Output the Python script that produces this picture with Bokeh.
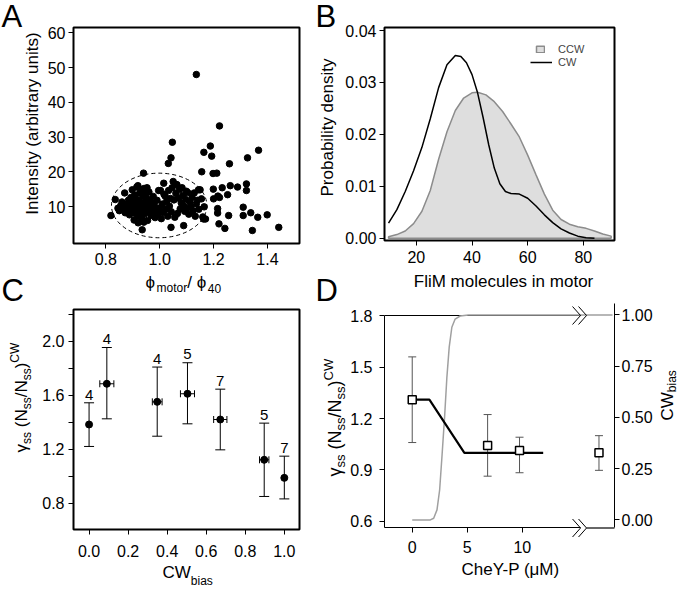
import math
from bokeh.plotting import figure
from bokeh.layouts import column, row
from bokeh.models import (Range1d, LinearAxis, FixedTicker, PrintfTickFormatter, Label, LabelSet,
                          ColumnDataSource, Whisker, TeeHead, Legend, LegendItem)
from bokeh.embed import file_html
from bokeh.resources import INLINE
from bokeh.core.properties import value

FONT = "Liberation Sans"

# ---------------- Panel A data ----------------
A_X = [1.136, 1.222, 1.047, 1.188, 1.193, 1.164, 1.042, 1.032, 1.259, 1.367, 1.326, 0.940, 1.156, 1.198, 1.212,
       1.199, 1.232, 1.262, 1.289, 1.322, 1.322, 1.216, 1.252, 1.200, 1.222, 1.215, 1.215, 1.310, 1.256, 1.310,
       1.338, 1.399, 1.364, 1.220, 1.242, 1.344, 1.442,
       0.819, 0.835, 0.941, 0.935, 1.042, 1.089, 1.163, 1.050, 1.064, 1.015, 0.919, 0.953, 1.083, 1.099, 1.003, 1.144,
       0.845, 0.850, 0.855, 0.860, 0.865, 0.870, 0.872, 0.875, 0.880, 0.884, 0.888, 0.890, 0.893, 0.895, 0.898,
       0.900, 0.903, 0.905, 0.907, 0.910, 0.912, 0.915, 0.916, 0.918, 0.920, 0.922, 0.924, 0.926, 0.928, 0.930,
       0.932, 0.934, 0.936, 0.938, 0.940, 0.942, 0.944, 0.946, 0.948, 0.950, 0.952, 0.955, 0.957, 0.960, 0.962,
       0.965, 0.968, 0.970, 0.973, 0.976, 0.980, 0.983, 0.986, 0.990, 0.993, 0.996, 1.000,
       1.006, 1.010, 1.013, 1.016, 1.020, 1.023, 1.026, 1.030, 1.033, 1.036, 1.040, 1.043, 1.046, 1.053, 1.056,
       1.060, 1.066, 1.070, 1.073, 1.076, 1.080, 1.086, 1.090, 1.093, 1.096, 1.100, 1.104, 1.108, 1.112, 1.116,
       1.120, 1.124, 1.128, 1.132, 1.136, 1.140, 1.145, 1.150, 1.155, 1.160, 1.165, 1.170]
A_Y = [48.0, 33.2, 28.5, 27.4, 24.5, 25.6, 24.0, 22.4, 22.3, 26.2, 24.0, 19.6, 20.0, 19.5, 19.6,
       15.0, 15.4, 16.0, 15.6, 16.5, 14.6, 13.0, 13.4, 12.2, 12.6, 9.4, 8.1, 9.8, 7.4, 7.4,
       8.2, 7.6, 6.9, 5.0, 3.7, 3.1, 4.0,
       7.4, 12.0, 5.5, 3.3, 4.0, 4.5, 6.4, 17.2, 16.3, 16.7, 16.0, 15.4, 15.4, 14.4, 14.6, 14.8,
       9.5, 8.8, 10.2, 11.3, 9.0, 13.9, 8.2, 10.5, 9.6, 11.8, 7.6, 10.0, 12.6, 8.9, 14.8,
       9.3, 11.0, 6.1, 13.3, 8.0, 10.4, 15.6, 12.0, 9.0, 5.3, 7.2, 11.4, 13.9, 10.1, 8.4,
       14.6, 6.6, 9.6, 12.8, 10.9, 15.2, 7.9, 9.0, 13.4, 11.6, 8.6, 6.0, 10.0, 14.2, 12.0,
       9.3, 7.4, 11.0, 8.2, 12.9, 10.3, 6.8, 9.0, 11.8, 7.9, 14.6, 9.6,
       6.5, 10.7, 8.3, 13.5, 13.0, 9.2, 11.5, 7.2, 14.6, 10.1, 12.3, 8.5, 15.4, 11.9, 6.9,
       13.8, 8.0, 12.4, 14.9, 9.3, 11.0, 13.2, 10.1, 8.6, 12.0, 9.4, 14.0, 7.8, 11.2, 10.0,
       12.6, 8.8, 13.9, 7.2, 10.8, 11.8, 9.2, 14.8, 12.2, 7.0, 9.9, 6.4]
A_ELLIPSE_X = [0.998]
A_ELLIPSE_Y = [10.3]
A_ELLIPSE_W = [0.354]
A_ELLIPSE_H = [18.6]
A_XTICKS = [0.8, 1.0, 1.2, 1.4]
A_YTICKS = [10, 20, 30, 40, 50, 60]

# ---------------- Panel B data ----------------
B_CCW_X = [10, 13, 16, 19, 22, 25, 28, 31, 34, 37, 40, 42, 45, 48, 51, 54, 57, 60, 63, 66, 69, 72, 75, 78, 81, 84, 87, 90]
B_CCW_Y = [0.0003, 0.0007, 0.0014, 0.0028, 0.0052, 0.0092, 0.0152, 0.0205, 0.0246, 0.0270, 0.0280, 0.0281, 0.0276,
           0.0263, 0.0244, 0.0220, 0.0195, 0.0160, 0.0122, 0.0085, 0.0054, 0.0036, 0.0027, 0.0022, 0.0019, 0.0014,
           0.0008, 0.0004]
B_CW_X = [10, 13, 16, 19, 22, 25, 28, 31, 34, 36, 38, 40, 42, 44, 46, 48, 50, 52, 54, 57, 60, 63, 66, 69, 72, 75, 78, 81, 84]
B_CW_Y = [0.0029, 0.0055, 0.0090, 0.0130, 0.0175, 0.0230, 0.0290, 0.0334, 0.0352, 0.0350, 0.0338, 0.0315, 0.0280,
          0.0232, 0.0180, 0.0135, 0.0105, 0.0090, 0.0086, 0.0085, 0.0077, 0.0062, 0.0045, 0.0030, 0.0018, 0.0010,
          0.0004, 0.0001, 0.0000]
B_XTICKS = [20, 40, 60, 80]
B_YTICKS = [0.0, 0.01, 0.02, 0.03, 0.04]

# ---------------- Panel C data ----------------
C_BIAS = [0.0, 0.091, 0.349, 0.504, 0.672, 0.897, 1.0]
C_BIAS_ERR = [0.0, 0.036, 0.025, 0.036, 0.034, 0.024, 0.0]
C_GAMMA = [1.384, 1.686, 1.552, 1.612, 1.421, 1.122, 0.988]
C_GAMMA_LO = [1.221, 1.426, 1.297, 1.389, 1.196, 0.850, 0.832]
C_GAMMA_HI = [1.545, 1.955, 1.810, 1.842, 1.646, 1.394, 1.149]
C_N = ["4", "4", "4", "5", "7", "5", "7"]
C_XTICKS = [0.0, 0.2, 0.4, 0.6, 0.8, 1.0]
C_YTICKS = [0.8, 1.2, 1.6, 2.0]
C_YMINOR = [1.0, 1.4, 1.8, 2.2]

# ---------------- Panel D data ----------------
D_CHEY = [0.0, 6.85, 9.75, 16.97]
D_GAMMA = [1.309, 1.043, 1.014, 1.0]
D_GAMMA_LO = [1.060, 0.864, 0.884, 0.898]
D_GAMMA_HI = [1.559, 1.223, 1.091, 1.100]
D_MODEL_X = [0.0, 1.56, 4.74, 11.9]
D_MODEL_Y = [1.31, 1.31, 1.0, 1.0]
D_CWB_X = [0.0, 1.65, 1.95, 2.25, 2.49, 2.7, 2.94, 3.15, 3.36, 3.6, 3.9, 4.35, 5.1, 18.2]
D_CWB_Y = [0.0, 0.0, 0.008, 0.049, 0.146, 0.308, 0.502, 0.697, 0.843, 0.94, 0.98, 0.995, 1.0, 1.0]
D_XTICKS = [0, 5, 10]
D_YTICKS = [0.6, 0.9, 1.2, 1.5, 1.8]
D_RTICKS = [0.0, 0.25, 0.5, 0.75, 1.0]
D_BREAK_X = 14.6

# ---------------- layout geometry (page pixels) ----------------
G = {
    "A": dict(ox=0, oy=0, w=340, h=290, fl=73, fr=299, ft=27, fb=243, xr=(0.680, 1.519), yr=(-0.65, 61.53)),
    "B": dict(ox=340, oy=0, w=340, h=290, fl=384, fr=615, ft=27, fb=240, xr=(8.55, 91.2), yr=(-0.00044, 0.04058)),
    "C": dict(ox=0, oy=290, w=340, h=300, fl=72, fr=300, ft=309, fb=529, xr=(-0.0797, 1.0777), yr=(0.605, 2.237)),
    "D": dict(ox=340, oy=290, w=340, h=300, fl=382, fr=614, ft=303, fb=527, xr=(-2.52, 18.38), yr=(0.565, 1.870)),
}
D_RIGHT_RANGE = (-0.037, 1.056)
PAGE_W, PAGE_H = 680, 590
MID = 0.35  # distance (in em) from the "middle" text anchor down to the baseline

WID = {' ': 278, '(': 333, ')': 333, '/': 278, '-': 333, '.': 278, 'A': 667, 'B': 667, 'C': 722, 'D': 722,
       'F': 611, 'I': 278, 'M': 833, 'N': 722, 'P': 667, 'W': 944, 'Y': 667, 'a': 556, 'b': 556, 'c': 500,
       'd': 556, 'e': 556, 'h': 556, 'i': 222, 'l': 222, 'm': 833, 'n': 556, 'o': 556, 'r': 333, 's': 500,
       't': 278, 'u': 556, 'y': 500, 'γ': 500, 'ϕ': 650, 'μ': 576}


def text_w(s, size):
    return sum(WID.get(ch, 556) for ch in s) * size / 1000.0


def page_x(key, x):
    g = G[key]
    return g["fl"] + (x - g["xr"][0]) / (g["xr"][1] - g["xr"][0]) * (g["fr"] - g["fl"])


def page_y(key, y):
    g = G[key]
    return g["fb"] - (y - g["yr"][0]) / (g["yr"][1] - g["yr"][0]) * (g["fb"] - g["ft"])


# overlay figure that carries every text lying outside the plot frames (page pixel coordinates)
ov = figure(width=PAGE_W, height=PAGE_H, x_range=Range1d(0, PAGE_W), y_range=Range1d(PAGE_H, 0),
            output_backend="svg", toolbar_location=None, title=None, x_axis_type=None, y_axis_type=None,
            min_border=0, outline_line_color=None, background_fill_color=None, border_fill_color=None,
            margin=(-PAGE_H, 0, 0, 0))
ov.grid.visible = False


def place(x, y, text, size, angle=0.0, align="left"):
    # (x, y) is the point on the text baseline
    if angle == 0:
        y = y - MID * size
    else:
        x = x - MID * size
    ov.add_layout(Label(x=x, y=y, text=text, angle=angle, text_align=align, text_baseline="middle",
                        text_font=FONT, text_font_size=f"{size}px", text_color="black"))


def compose(x, y, pieces, rotated=False):
    pos = 0.0
    for text, size, shift in pieces:
        lead = len(text) - len(text.lstrip(" "))
        pos += lead * 278 * size / 1000.0
        t = text.strip(" ")
        if rotated:
            place(x + shift, y - pos, t, size, angle=math.pi / 2)
        else:
            place(x + pos, y + shift, t, size)
        pos += text_w(text.lstrip(" "), size)


def make_fig(key, box=True):
    g = G[key]
    p = figure(width=g["w"], height=g["h"], x_range=Range1d(*g["xr"]), y_range=Range1d(*g["yr"]),
               output_backend="svg", toolbar_location=None, title=None,
               min_border_left=g["fl"] - g["ox"], min_border_right=g["ox"] + g["w"] - g["fr"],
               min_border_top=g["ft"] - g["oy"], min_border_bottom=g["oy"] + g["h"] - g["fb"])
    p.grid.visible = False
    p.outline_line_color = "black" if box else None
    p.outline_line_width = 2
    p.background_fill_color = "white"
    p.border_fill_color = "white"
    return p


def style_axis(ax, ticks, fmt, standoff, minor=None):
    ax.ticker = FixedTicker(ticks=ticks, minor_ticks=minor or [])
    ax.formatter = PrintfTickFormatter(format=fmt)
    ax.major_tick_out = 5
    ax.major_tick_in = 0
    ax.minor_tick_out = 5 if minor else 0
    ax.minor_tick_in = 0
    ax.major_label_standoff = standoff
    ax.major_label_text_font = FONT
    ax.major_label_text_font_size = "16px"
    ax.major_label_text_color = "black"
    ax.axis_line_color = "black"
    ax.major_tick_line_color = "black"
    ax.minor_tick_line_color = "black"


def gamma_pieces(main, sub):
    return [("γ", main, 0), ("ss", sub, 4), (" (N", main, 0), ("ss", sub, 4), ("/N", main, 0), ("ss", sub, 4),
            (")", main, 0), ("CW", sub, -8)]


# ================= Panel A =================
pA = make_fig("A")
style_axis(pA.below[0], A_XTICKS, "%.1f", 4)
style_axis(pA.left[0], A_YTICKS, "%d", 3)
pA.ellipse(x=A_ELLIPSE_X, y=A_ELLIPSE_Y, width=A_ELLIPSE_W, height=A_ELLIPSE_H, fill_color=None,
           line_color="black", line_dash="4 3", line_width=1)
pA.scatter(A_X, A_Y, size=6.5, color="black")
place(38, 123, "Intensity (arbitrary units)", 17, angle=math.pi / 2, align="center")
compose(145, 288, [("ϕ", 17, 0), ("motor", 12, 4), ("/ ", 17, 0), ("ϕ", 17, 0), ("40", 12, 4)])
place(1, 27, "A", 31)
place(1, 301, "C", 31)

# ================= Panel B =================
pB = make_fig("B")
style_axis(pB.below[0], B_XTICKS, "%d", 5)
style_axis(pB.left[0], B_YTICKS, "%.2f", 3)
ccw_xs = [B_CCW_X[0]] + B_CCW_X + [B_CCW_X[-1]]
ccw_ys = [0.0] + B_CCW_Y + [0.0]
r_ccw = pB.patch(ccw_xs, ccw_ys, fill_color="#dedede", line_color="#8c8c8c", line_width=1.5)
r_cw = pB.line(B_CW_X, B_CW_Y, line_color="black", line_width=1.5)
leg1 = Legend(items=[LegendItem(label="CCW", renderers=[r_ccw])], location=(151, 185), glyph_width=10,
              glyph_height=8, label_standoff=13, padding=0, margin=0, spacing=0, border_line_color=None,
              background_fill_alpha=0, label_text_font=FONT, label_text_font_size="11px", label_height=10)
leg2 = Legend(items=[LegendItem(label="CW", renderers=[r_cw])], location=(146, 172), glyph_width=22,
              glyph_height=8, label_standoff=6, padding=0, margin=0, spacing=0, border_line_color=None,
              background_fill_alpha=0, label_text_font=FONT, label_text_font_size="11px", label_height=10)
pB.add_layout(leg1)
pB.add_layout(leg2)
place(333, 127, "Probability density", 17, angle=math.pi / 2, align="center")
place(503, 287, "FliM molecules in motor", 17, align="center")
place(315, 27, "B", 31)
place(315, 301, "D", 31)

# ================= Panel C =================
pC = make_fig("C")
style_axis(pC.below[0], C_XTICKS, "%.1f", 10)
style_axis(pC.left[0], C_YTICKS, "%.1f", 4, minor=C_YMINOR)
srcC = ColumnDataSource(dict(x=C_BIAS, y=C_GAMMA, lo=C_GAMMA_LO, hi=C_GAMMA_HI, n=C_N))
pC.add_layout(Whisker(source=srcC, base="x", upper="hi", lower="lo", dimension="height",
                      line_color="black", line_width=1,
                      upper_head=TeeHead(size=10, line_color="black", line_width=1),
                      lower_head=TeeHead(size=10, line_color="black", line_width=1)))
hx = [b for b, e in zip(C_BIAS, C_BIAS_ERR) if e > 0]
hy = [g for g, e in zip(C_GAMMA, C_BIAS_ERR) if e > 0]
he = [e for e in C_BIAS_ERR if e > 0]
srcCh = ColumnDataSource(dict(y=hy, lo=[a - e for a, e in zip(hx, he)], hi=[a + e for a, e in zip(hx, he)]))
pC.add_layout(Whisker(source=srcCh, base="y", upper="hi", lower="lo", dimension="width",
                      line_color="black", line_width=1,
                      upper_head=TeeHead(size=7, line_color="black", line_width=1),
                      lower_head=TeeHead(size=7, line_color="black", line_width=1)))
pC.scatter("x", "y", source=srcC, size=7, color="black")
pC.add_layout(LabelSet(x="x", y="hi", text="n", source=srcC, y_offset=3 + MID * 15, text_align="center",
                       text_baseline="middle", text_font=value(FONT), text_font_size=value("15px"),
                       text_color="black"))
compose(27, 452, gamma_pieces(17, 12), rotated=True)
compose(162, 578, [("CW", 17, 0), ("bias", 12, 7)])

# ================= Panel D =================
pD = make_fig("D", box=False)
y_bot = G["D"]["yr"][0]
x_beg = G["D"]["xr"][0]
dxp = (G["D"]["xr"][1] - G["D"]["xr"][0]) / (G["D"]["fr"] - G["D"]["fl"])
style_axis(pD.below[0], D_XTICKS, "%d", 8)
style_axis(pD.left[0], D_YTICKS, "%.1f", 7)
pD.left[0].bounds = (y_bot, D_YTICKS[-1])
pD.below[0].bounds = (x_beg, D_BREAK_X + 8 * dxp)
pD.extra_y_ranges = {"cw": Range1d(*D_RIGHT_RANGE)}
ax_r = LinearAxis(y_range_name="cw")
style_axis(ax_r, D_RTICKS, "%.2f", 2)
pD.add_layout(ax_r, "right")

# top frame line up to the axis break
pD.segment(x0=[x_beg], y0=[D_YTICKS[-1]], x1=[D_BREAK_X + 8 * dxp], y1=[D_YTICKS[-1]],
           line_color="black", line_width=1)
pD.line(D_CWB_X, D_CWB_Y, y_range_name="cw", line_color="#a0a0a0", line_width=1.5)
pD.line(D_MODEL_X, D_MODEL_Y, line_color="black", line_width=2.2)
srcD = ColumnDataSource(dict(x=D_CHEY, y=D_GAMMA, lo=D_GAMMA_LO, hi=D_GAMMA_HI))
pD.add_layout(Whisker(source=srcD, base="x", upper="hi", lower="lo", dimension="height",
                      line_color="#555555", line_width=1, level="underlay",
                      upper_head=TeeHead(size=8, line_color="#555555", line_width=1),
                      lower_head=TeeHead(size=8, line_color="#555555", line_width=1)))
pD.scatter("x", "y", source=srcD, marker="square", size=8, fill_color="white", line_color="black",
           line_width=1.5)

# axis-break marks (drawn on the overlay so they are not cut by the frame)
bx = page_x("D", D_BREAK_X)
frame_bottom = G["D"]["fb"] + 0.5
for yc in (page_y("D", D_YTICKS[-1]), frame_bottom):
    for k in (0, 6):
        ov.line([bx + k, bx + k + 8, bx + k], [yc - 9, yc, yc + 9], line_color="black", line_width=1)
ov.line([bx + 14, G["D"]["fr"]], [frame_bottom, frame_bottom], line_color="black", line_width=1.2)

compose(341, 476, gamma_pieces(18, 13), rotated=True)
place(510, 575, "CheY-P (μM)", 17, align="center")
compose(673, 420, [("CW", 17, 0), ("bias", 12, 3)], rotated=True)

body = row(column(pA, pC), column(pB, pD))
page = column(body, ov)
open("out.html", "w").write(file_html(page, INLINE))
